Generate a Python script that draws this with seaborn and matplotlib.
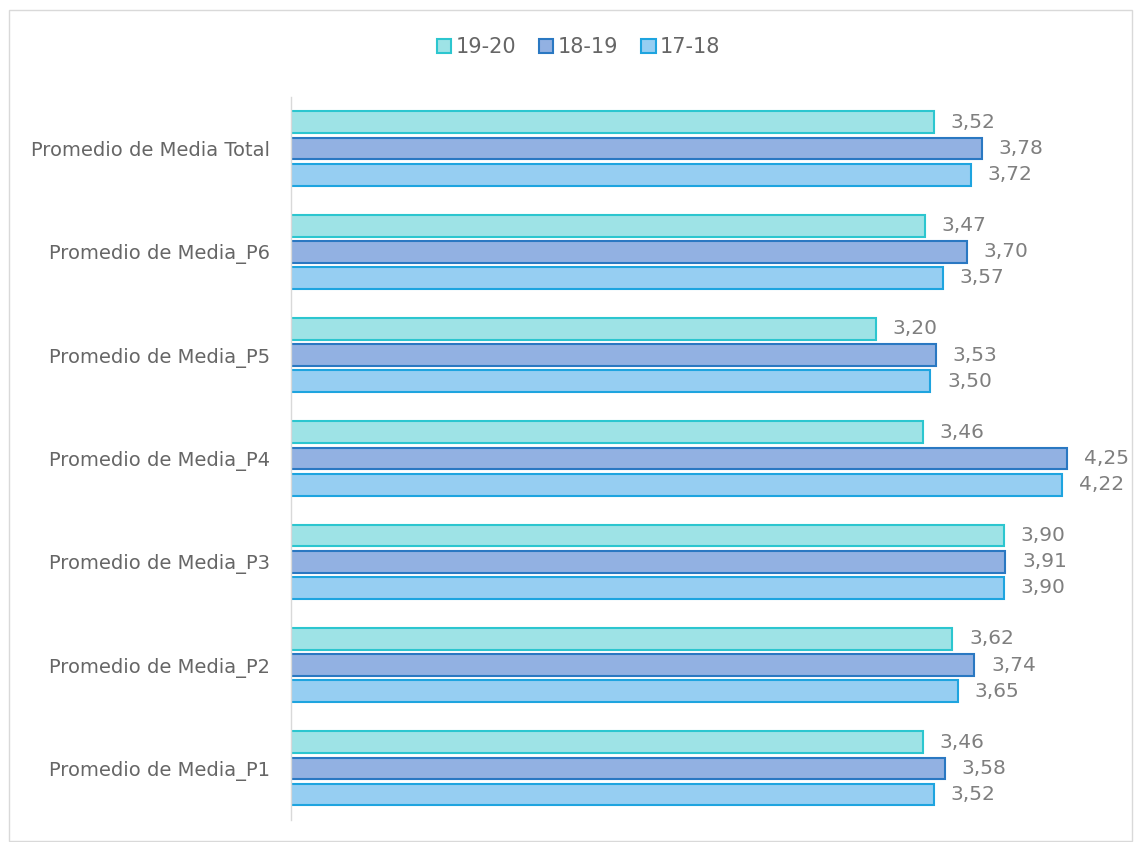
import pandas as pd
import matplotlib.pyplot as plt
import seaborn as sns
from matplotlib.patches import Rectangle, Patch

categories = ["Promedio de Media Total", "Promedio de Media_P6", "Promedio de Media_P5",
              "Promedio de Media_P4", "Promedio de Media_P3", "Promedio de Media_P2",
              "Promedio de Media_P1"]
series = ["19-20", "18-19", "17-18"]
vals_1920 = [3.52, 3.47, 3.20, 3.46, 3.90, 3.62, 3.46]
vals_1819 = [3.78, 3.70, 3.53, 4.25, 3.91, 3.74, 3.58]
vals_1718 = [3.72, 3.57, 3.50, 4.22, 3.90, 3.65, 3.52]

fills = ["#9ee3e6", "#92b1e2", "#96cef2"]
edges = ["#2cc6cf", "#2a78c2", "#1ea4df"]

df = pd.DataFrame({
    "cat": categories * 3,
    "serie": [s for s in series for _ in categories],
    "valor": vals_1920 + vals_1819 + vals_1718,
})

sns.set_theme(style="white")
plt.rcParams["font.family"] = ["DejaVu Sans"]

fig = plt.figure(figsize=(11.34, 8.42), dpi=100)
ax = fig.add_axes([0.2566, 0.026, 0.725, 0.859])

sns.barplot(data=df, y="cat", x="valor", hue="serie", hue_order=series,
            order=categories, orient="h", palette=fills, saturation=1,
            width=0.76, gap=0.17, legend=False, ax=ax)

for bars, ec in zip(ax.containers, edges):
    for b in bars:
        b.set_edgecolor(ec)
        b.set_linewidth(1.5)
    labels = [f"{b.get_width():.2f}".replace(".", ",") for b in bars]
    ax.bar_label(bars, labels=labels, padding=12, fontsize=14.5, color="#7f7f7f")

ax.set_xlim(0, 4.5)
ax.set_ylim(6.5, -0.5)
ax.set_xticks([])
ax.set_xlabel("")
ax.set_ylabel("")
ax.tick_params(axis="y", length=0, pad=15, labelsize=14, labelcolor="#666666")
for s in ["top", "right", "bottom"]:
    ax.spines[s].set_visible(False)
ax.spines["left"].set_color("#d9d9d9")
ax.spines["left"].set_linewidth(1)

handles = [Patch(facecolor=f, edgecolor=e, linewidth=1.5, label=s)
           for s, f, e in zip(series, fills, edges)]
fig.legend(handles=handles, loc="center", bbox_to_anchor=(0.51, 0.944), ncol=3,
           frameon=False, fontsize=15, labelcolor="#666666", handlelength=0.7,
           handleheight=0.7, handletextpad=0.2, columnspacing=1.1)

fig.patches.append(Rectangle((0.008, 0.001), 0.99, 0.987, transform=fig.transFigure,
                             fill=False, edgecolor="#d9d9d9", linewidth=1))

fig.savefig("out.png", dpi=100)
plt.close(fig)
